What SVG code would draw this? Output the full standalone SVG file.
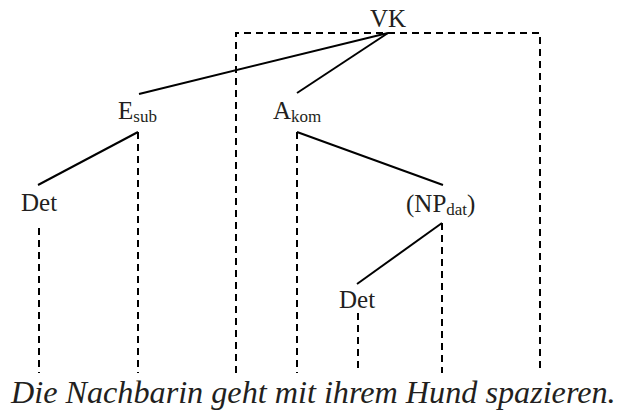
<svg xmlns="http://www.w3.org/2000/svg" width="622" height="411" viewBox="0 0 622 411">
<style>
  text { font-family: "Liberation Serif", "Times New Roman", serif; fill: #231f20; }
  .lbl { font-size: 25px; }
  .sub { font-size: 17px; }
  .sent { font-size: 32.2px; font-style: italic; }
  .solid { stroke: #000; stroke-width: 2; fill: none; }
  .dash { stroke: #000; stroke-width: 2; fill: none; stroke-dasharray: 7 5; }
</style>
<rect width="622" height="411" fill="#fff"/>
<g id="connectors">
  <line class="solid" x1="388" y1="33" x2="139" y2="94"/>
  <line class="solid" x1="388" y1="33" x2="297" y2="93"/>
  <line class="solid" x1="138" y1="132" x2="38" y2="185"/>
  <line class="solid" x1="297" y1="132" x2="443" y2="185"/>
  <line class="solid" x1="442" y1="223" x2="357" y2="284"/>
  <path class="dash" d="M236,373 V33 H540 V373"/>
  <line class="dash" x1="138" y1="132" x2="138" y2="373"/>
  <line class="dash" x1="39" y1="228" x2="39" y2="373"/>
  <line class="dash" x1="297" y1="132" x2="297" y2="373"/>
  <line class="dash" x1="442" y1="223" x2="442" y2="373"/>
  <line class="dash" x1="358" y1="313" x2="358" y2="373"/>
</g>
<g id="VK"><text class="lbl" x="370" y="27">VK</text></g>
<g id="Esub"><text class="lbl" x="118" y="119">E<tspan class="sub" dy="3">sub</tspan></text></g>
<g id="Akom"><text class="lbl" x="273" y="119">A<tspan class="sub" dy="3">kom</tspan></text></g>
<g id="Det1"><text class="lbl" x="21" y="211">Det</text></g>
<g id="NPdat"><text class="lbl" x="406" y="212">(NP<tspan class="sub" dy="3">dat</tspan><tspan dy="-3">)</tspan></text></g>
<g id="Det2"><text class="lbl" x="339" y="308">Det</text></g>
<g id="sentence"><text class="sent" x="11" y="403">Die Nachbarin geht mit ihrem Hund spazieren.</text></g>
</svg>
